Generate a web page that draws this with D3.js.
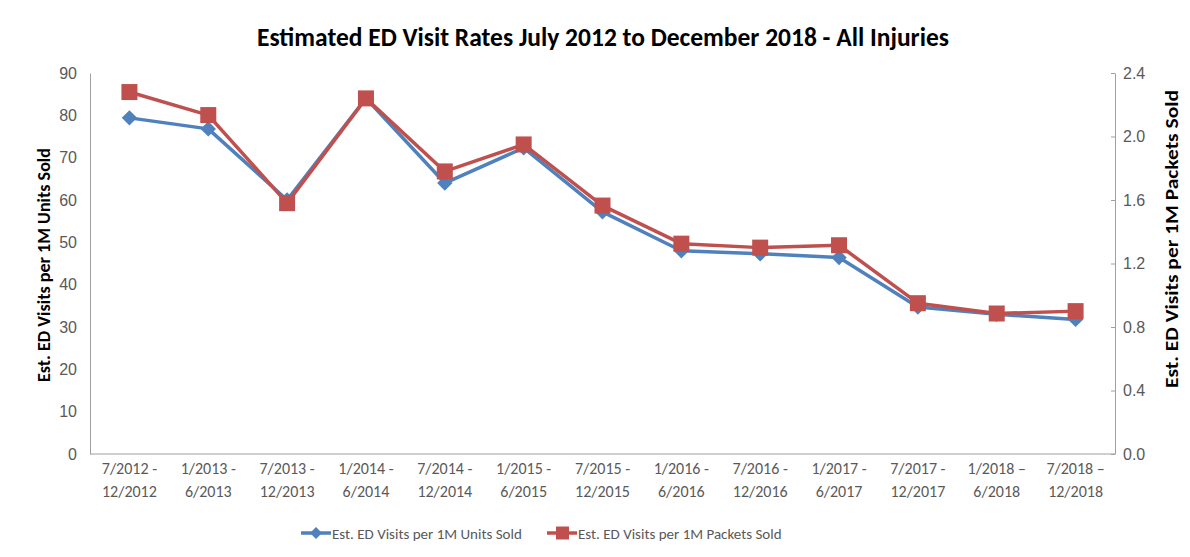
<!DOCTYPE html>
<html>
<head>
<meta charset="utf-8">
<script src="https://cdn.jsdelivr.net/npm/d3@7"></script>
<style>
  body { margin: 0; background: #fff; }
  svg { display: block; font-family: Carlito, "Open Sans", "Liberation Sans", sans-serif; }
</style>
</head>
<body>
<svg id="chart"></svg>
<script>
var periods = [
  ['7/2012 -', '12/2012'], ['1/2013 -', '6/2013'], ['7/2013 -', '12/2013'],
  ['1/2014 -', '6/2014'], ['7/2014 -', '12/2014'], ['1/2015 -', '6/2015'],
  ['7/2015 -', '12/2015'], ['1/2016 -', '6/2016'], ['7/2016 -', '12/2016'],
  ['1/2017 -', '6/2017'], ['7/2017 -', '12/2017'], ['1/2018 \u2013', '6/2018'],
  ['7/2018 \u2013', '12/2018']
];
var unitsSold = [79.4, 76.8, 60.0, 84.0, 64.0, 72.3, 57.2, 48.0, 47.3, 46.4, 34.7, 33.0, 31.8];
var packetsSold = [2.28, 2.135, 1.58, 2.24, 1.78, 1.95, 1.565, 1.325, 1.30, 1.315, 0.95, 0.885, 0.90];
var leftTicks = [0, 10, 20, 30, 40, 50, 60, 70, 80, 90];
var rightTicks = [0, 0.4, 0.8, 1.2, 1.6, 2.0, 2.4];

var width = 1190, height = 557;
var svg = d3.select('#chart').attr('width', width).attr('height', height);

var x = d3.scaleBand().domain(d3.range(periods.length)).range([90, 1115]);
var yL = d3.scaleLinear().domain([0, 90]).range([454, 73]);
var yR = d3.scaleLinear().domain([0, 2.4]).range([454, 73]);

var blue = '#4F81BD', red = '#C0504D', axisCol = '#A0A0A0', textCol = '#595959';

// title
svg.append('text')
  .attr('x', 603).attr('y', 46)
  .attr('text-anchor', 'middle')
  .style('font-size', '25.5px').style('font-weight', 'bold')
  .attr('fill', '#000')
  .text('Estimated ED Visit Rates July 2012 to December 2018 - All Injuries');

// left axis
var gl = svg.append('g').attr('transform', 'translate(90,0)')
  .call(d3.axisLeft(yL).tickValues(leftTicks).tickSize(0).tickPadding(13));
gl.select('.domain').attr('stroke', axisCol);
gl.selectAll('text').style('font-size', '16px').attr('fill', textCol).style('font-family', null);

// right axis
var gr = svg.append('g').attr('transform', 'translate(1115,0)')
  .call(d3.axisRight(yR).tickValues(rightTicks).tickFormat(d3.format('.1f')).tickSize(0).tickPadding(8));
gr.select('.domain').attr('stroke', axisCol);
gr.selectAll('text').style('font-size', '16px').attr('fill', textCol).style('font-family', null);
gr.selectAll('.tick').append('line').attr('x1', -4).attr('x2', 0).attr('stroke', axisCol);

// bottom axis
svg.append('line')
  .attr('x1', 90).attr('x2', 1115).attr('y1', 454).attr('y2', 454)
  .attr('stroke', axisCol);

var lbl = svg.append('g').selectAll('text').data(periods).join('text')
  .attr('text-anchor', 'middle')
  .style('font-size', '16px').attr('fill', textCol)
  .attr('transform', (d, i) => `translate(${x(i) + x.bandwidth() / 2},474)`);
lbl.append('tspan').attr('x', 0).attr('y', 0).text(d => d[0]);
lbl.append('tspan').attr('x', 0).attr('y', 23).text(d => d[1]);

// axis titles
svg.append('text')
  .attr('transform', 'translate(50,265) rotate(-90)')
  .attr('text-anchor', 'middle')
  .attr('textLength', 234).attr('lengthAdjust', 'spacingAndGlyphs')
  .style('font-size', '17.5px').style('font-weight', 'bold')
  .text('Est. ED Visits per 1M Units Sold');
svg.append('text')
  .attr('transform', 'translate(1178,239) rotate(-90)')
  .attr('text-anchor', 'middle')
  .attr('textLength', 298).attr('lengthAdjust', 'spacingAndGlyphs')
  .style('font-size', '17.5px').style('font-weight', 'bold')
  .text('Est. ED Visits per 1M Packets Sold');

var cx = i => x(i) + x.bandwidth() / 2;

// units series
svg.append('path')
  .datum(unitsSold)
  .attr('fill', 'none').attr('stroke', blue).attr('stroke-width', 3.5)
  .attr('stroke-linejoin', 'round')
  .attr('d', d3.line().x((d, i) => cx(i)).y(d => yL(d)));
svg.append('g').selectAll('path').data(unitsSold).join('path')
  .attr('d', d3.symbol(d3.symbolDiamond2, 150))
  .attr('transform', (d, i) => `translate(${cx(i)},${yL(d)})`)
  .attr('fill', blue);

// packets series
svg.append('path')
  .datum(packetsSold)
  .attr('fill', 'none').attr('stroke', red).attr('stroke-width', 3.5)
  .attr('stroke-linejoin', 'round')
  .attr('d', d3.line().x((d, i) => cx(i)).y(d => yR(d)));
svg.append('g').selectAll('rect').data(packetsSold).join('rect')
  .attr('x', (d, i) => cx(i) - 8).attr('y', d => yR(d) - 8)
  .attr('width', 16).attr('height', 16)
  .attr('fill', red);

// legend
var legend = svg.append('g').attr('transform', 'translate(0,533)');
var items = [
  { name: 'Est. ED Visits per 1M Units Sold', color: blue, x: 301, shape: 'diamond' },
  { name: 'Est. ED Visits per 1M Packets Sold', color: red, x: 547, shape: 'square' }
];
items.forEach(function (it) {
  var g = legend.append('g').attr('transform', `translate(${it.x},0)`);
  g.append('line').attr('x1', 0).attr('x2', 30).attr('stroke', it.color).attr('stroke-width', 3.5);
  if (it.shape === 'diamond') {
    g.append('path').attr('d', d3.symbol(d3.symbolDiamond2, 90)).attr('transform', 'translate(15,0)').attr('fill', it.color);
  } else {
    g.append('rect').attr('x', 9).attr('y', -6.5).attr('width', 13).attr('height', 13).attr('fill', it.color);
  }
  g.append('text').attr('x', 31).attr('y', 5.5)
    .style('font-size', '15px').attr('fill', textCol)
    .text(it.name);
});
</script>
</body>
</html>
